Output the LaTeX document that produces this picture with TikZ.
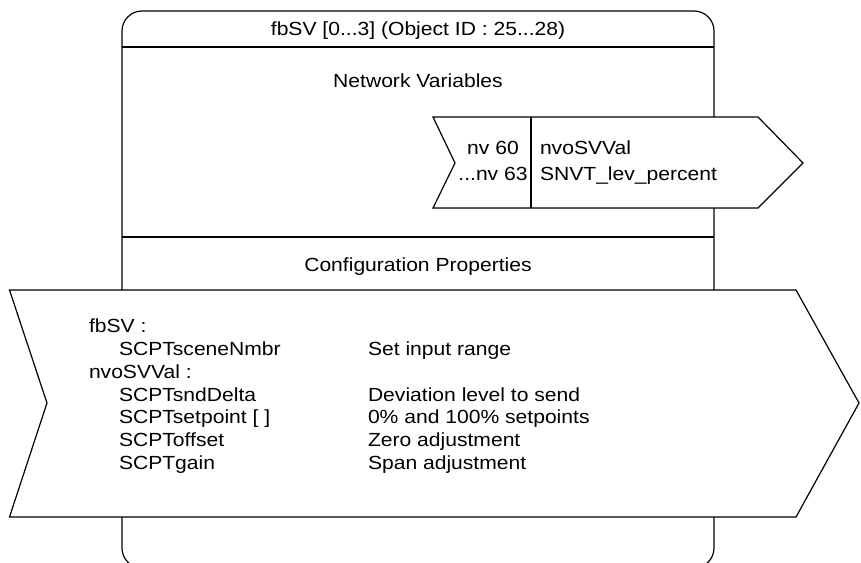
\documentclass[tikz,border=0pt]{standalone}
\usepackage{fontspec}
\setmainfont[FakeStretch=1.11]{Liberation Sans}
\tikzset{
  frame/.style={line width=1.2pt, draw=black},
  arrowshape/.style={line width=1.2pt, draw=black, fill=white},
  txt/.style={inner sep=0pt, outer sep=0pt, font=\fontsize{19}{25.3}\selectfont},
  cptxt/.style={inner sep=0pt, outer sep=0pt, font=\fontsize{19}{22.8}\selectfont},
}
\begin{document}
\begin{tikzpicture}[x=1pt,y=-1pt]
\useasboundingbox (0,0) rectangle (861,562);
\begin{scope}
\clip (0,0) rectangle (861,562);
\draw[frame, rounded corners=20pt] (122,568) -- (122,11) -- (714,11) -- (714,568) -- cycle;
\end{scope}
\draw[frame] (122,47) -- (714,47);
\draw[frame] (122,237) -- (714,237);
\node[txt, anchor=base] (title) at (418,35.5) {fbSV [0...3] (Object ID : 25...28)};
\node[txt, anchor=base] (nvhead) at (418,87) {Network Variables};
\node[txt, anchor=base] (cphead) at (418,271) {Configuration Properties};
% network variable arrow
\draw[arrowshape] (433,117) -- (758,117) -- (803,163) -- (758,208) -- (433,208) -- (455,163) -- cycle;
\draw[frame] (531,117) -- (531,208);
\node[txt, anchor=base, align=center] (nvnum) at (493,180) {nv 60\\...nv 63};
\node[txt, anchor=base west, align=left] (nvname) at (540,180) {nvoSVVal\\SNVT\_lev\_percent};
% configuration properties arrow
\draw[arrowshape] (9.5,290) -- (796,290) -- (859,403) -- (796,517) -- (9.5,517) -- (47,403) -- cycle;
\node[cptxt, anchor=base west, align=left] (cpnames) at (89,469.5) {fbSV :\\\hspace*{30pt}SCPTsceneNmbr\\nvoSVVal :\\\hspace*{30pt}SCPTsndDelta\\\hspace*{30pt}SCPTsetpoint [ ]\\\hspace*{30pt}SCPToffset\\\hspace*{30pt}SCPTgain};
\node[cptxt, anchor=base west, align=left] (cpdesc) at (368,469.5) {Set input range\\[22.8pt]Deviation level to send\\0\% and 100\% setpoints\\Zero adjustment\\Span adjustment};
\end{tikzpicture}
\end{document}
